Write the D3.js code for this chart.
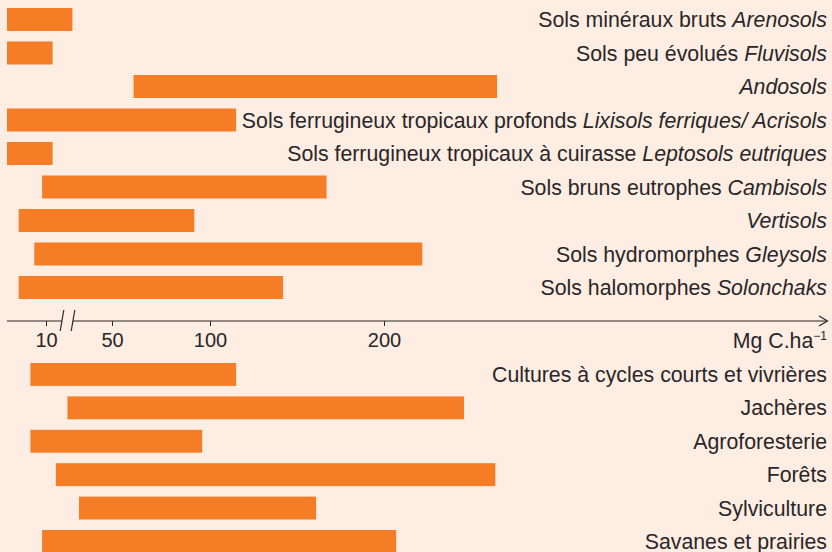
<!DOCTYPE html>
<html>
<head>
<meta charset="utf-8">
<script src="https://cdn.jsdelivr.net/npm/d3@7"></script>
<style>
  html, body { margin: 0; padding: 0; background: #fdede2; }
  svg { display: block; }
  text { font-family: "Liberation Sans", Arial, Helvetica, sans-serif; fill: #2a2627; }
</style>
</head>
<body>
<svg id="chart" width="832" height="552"></svg>
<script>
// Soil types: French name (roman) and WRB name (italic)
const soilNames = [
  "Sols minéraux bruts ",
  "Sols peu évolués ",
  "",
  "Sols ferrugineux tropicaux profonds ",
  "Sols ferrugineux tropicaux à cuirasse ",
  "Sols bruns eutrophes ",
  "",
  "Sols hydromorphes ",
  "Sols halomorphes "
];
const soilWrb = [
  "Arenosols", "Fluvisols", "Andosols", "Lixisols ferriques/ Acrisols",
  "Leptosols eutriques", "Cambisols", "Vertisols", "Gleysols", "Solonchaks"
];
// Carbon stock ranges (Mg C.ha-1)
const soilMin = [0, 0, 61, 0, 0, 9, 3, 7, 3];
const soilMax = [26, 14, 265, 115, 14, 167, 92, 222, 142];

// Land uses
const landUses = [
  "Cultures à cycles courts et vivrières",
  "Jachères",
  "Agroforesterie",
  "Forêts",
  "Sylviculture",
  "Savanes et prairies"
];
const landMin = [6, 23, 6, 16, 30, 9];
const landMax = [115, 246, 96, 264, 161, 207];

// Axis: broken scale between 10 and 50
const tickValues = [10, 50, 100, 200];
const scaleBreaks = [0, 10, 50, 100, 200, 450];
const unitLabel = "Mg C.ha";
const unitExp = "−1";

const svg = d3.select("#chart");
const W = 832, H = 552;
const barColor = "#f47d26";
const ink = "#2a2627";
const labelRight = 827;
const fontSize = 21.3;
const tickFontSize = 20;

svg.append("rect").attr("width", W).attr("height", H).attr("fill", "#fdede2");

const x = d3.scaleLinear()
  .domain(scaleBreaks)
  .range([7, 46, 112, 210, 384, 819]);

const stepTop = 33.5, stepLow = 33.4, pad = 10.5;
const yTop = d3.scaleBand()
  .domain(d3.range(soilWrb.length))
  .range([8 - pad / 2, 8 - pad / 2 + stepTop * soilWrb.length])
  .paddingInner(pad / stepTop)
  .paddingOuter(pad / stepTop / 2);

const yLow = d3.scaleBand()
  .domain(d3.range(landUses.length))
  .range([363 - pad / 2, 363 - pad / 2 + stepLow * landUses.length])
  .paddingInner(pad / stepLow)
  .paddingOuter(pad / stepLow / 2);

// Soil bars
const soils = soilWrb.map((w, i) => ({ i, name: soilNames[i], wrb: w, lo: soilMin[i], hi: soilMax[i] }));
svg.append("g").selectAll("rect").data(soils).join("rect")
  .attr("x", d => x(d.lo))
  .attr("y", d => yTop(d.i))
  .attr("width", d => x(d.hi) - x(d.lo))
  .attr("height", yTop.bandwidth())
  .attr("fill", barColor);

const soilText = svg.append("g").selectAll("text").data(soils).join("text")
  .attr("x", labelRight)
  .attr("y", d => yTop(d.i) + yTop.bandwidth() / 2 + 7.5)
  .attr("text-anchor", "end")
  .attr("font-size", fontSize);
soilText.append("tspan").text(d => d.name);
soilText.append("tspan").attr("font-style", "italic").text(d => d.wrb);

// Land-use bars
const lands = landUses.map((n, i) => ({ i, name: n, lo: landMin[i], hi: landMax[i] }));
svg.append("g").selectAll("rect").data(lands).join("rect")
  .attr("x", d => x(d.lo))
  .attr("y", d => yLow(d.i))
  .attr("width", d => x(d.hi) - x(d.lo))
  .attr("height", yLow.bandwidth())
  .attr("fill", barColor);

svg.append("g").selectAll("text").data(lands).join("text")
  .attr("x", labelRight)
  .attr("y", d => yLow(d.i) + yLow.bandwidth() / 2 + 7.5)
  .attr("text-anchor", "end")
  .attr("font-size", fontSize)
  .text(d => d.name);

// Axis
const axisY = 321;
const axisG = svg.append("g").attr("transform", `translate(0,${axisY})`);
axisG.call(d3.axisBottom(x).tickValues(tickValues).tickSize(5).tickPadding(7).tickFormat(d3.format("d")));
axisG.select(".domain").remove();
axisG.selectAll(".tick line").attr("stroke", ink).attr("stroke-width", 1);
axisG.selectAll(".tick text")
  .attr("font-size", tickFontSize)
  .attr("font-family", "Liberation Sans, Arial, sans-serif")
  .attr("fill", ink);

// Axis line with break
const b1 = 62, b2 = 73;
axisG.append("line").attr("x1", 7).attr("x2", b1).attr("stroke", ink).attr("stroke-width", 1.2);
axisG.append("line").attr("x1", b2).attr("x2", 827).attr("stroke", ink).attr("stroke-width", 1.2);
[b1, b2].forEach(bx => {
  axisG.append("line")
    .attr("x1", bx - 1.8).attr("y1", 10)
    .attr("x2", bx + 1.8).attr("y2", -11)
    .attr("stroke", ink).attr("stroke-width", 1.2);
});
// Arrowhead
axisG.append("path")
  .attr("d", "M819,-5 L827.5,0 L819,5")
  .attr("fill", "none").attr("stroke", ink).attr("stroke-width", 1.2);

// Unit label
const unit = svg.append("text")
  .attr("x", labelRight)
  .attr("y", 348)
  .attr("text-anchor", "end")
  .attr("font-size", fontSize);
unit.append("tspan").text(unitLabel);
unit.append("tspan").attr("font-size", 12).attr("dy", -8).text(unitExp);
</script>
</body>
</html>
